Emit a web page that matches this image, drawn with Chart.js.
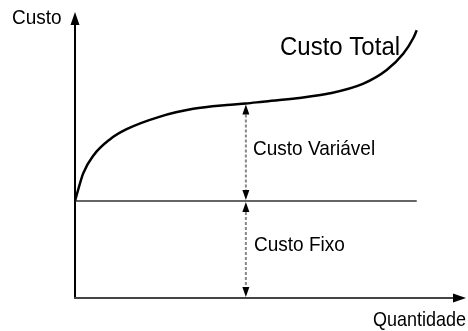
<!DOCTYPE html>
<html>
<head>
<meta charset="utf-8">
<script src="https://cdn.jsdelivr.net/npm/chart.js@4/dist/chart.umd.min.js"></script>
<style>
  html, body { margin: 0; padding: 0; background: #fff; }
  #wrap { width: 468px; height: 331px; }
</style>
</head>
<body>
<div id="wrap"><canvas id="chart" width="468" height="331"></canvas></div>
<script>
// quantidade (x) e custo (y)
const quantidade = [0, 0.24, 0.54, 1.02, 1.51, 2.49, 3.46, 4.44, 5, 5.5, 6.49, 7.46, 8.44, 9.12, 9.61, 9.9, 10];
const custoTotal = [10, 12.85, 14.7, 16.35, 17.4, 18.7, 19.5, 19.9, 20.05, 20.24, 20.6, 21.1, 22.1, 23.5, 25.2, 26.8, 27.6];
const quantidadeFixo = [0, 10];
const custoFixo = [10, 10];
const qMarca = 5; // onde ficam as setas tracejadas

const xMax = 11.5;
const yMax = 30;

const totalPts = quantidade.map((q, i) => ({ x: q, y: custoTotal[i] }));
const fixoPts = quantidadeFixo.map((q, i) => ({ x: q, y: custoFixo[i] }));

function arrowHead(ctx, x, y, dir, len, half) {
  // dir: 'up' | 'down' | 'right'
  ctx.beginPath();
  if (dir === 'up') {
    ctx.moveTo(x, y); ctx.lineTo(x - half, y + len); ctx.lineTo(x + half, y + len);
  } else if (dir === 'down') {
    ctx.moveTo(x, y); ctx.lineTo(x - half, y - len); ctx.lineTo(x + half, y - len);
  } else {
    ctx.moveTo(x, y); ctx.lineTo(x - len, y - half); ctx.lineTo(x - len, y + half);
  }
  ctx.closePath();
  ctx.fill();
}

// texto um pouco esticado na vertical, como no original
function label(ctx, txt, x, y, size, align) {
  ctx.save();
  ctx.font = size + 'px "Liberation Sans", Arial, sans-serif';
  ctx.textAlign = align || 'left';
  ctx.textBaseline = 'alphabetic';
  ctx.translate(x, y);
  ctx.scale(1, 1.1);
  ctx.fillText(txt, 0, 0);
  ctx.restore();
}

const desenho = {
  id: 'desenho',
  beforeDatasetsDraw(chart) {
    const { ctx, scales: { x, y } } = chart;
    const x0 = x.getPixelForValue(0);
    const y0 = y.getPixelForValue(0);
    ctx.save();
    ctx.fillStyle = '#000';
    // eixo vertical
    ctx.strokeStyle = '#000';
    ctx.lineWidth = 2;
    ctx.beginPath();
    ctx.moveTo(x0, y0 + 1);
    ctx.lineTo(x0, 20);
    ctx.stroke();
    arrowHead(ctx, x0, 12, 'up', 13, 4.5);
    // eixo horizontal
    ctx.strokeStyle = '#444';
    ctx.beginPath();
    ctx.moveTo(x0 - 1, y0);
    ctx.lineTo(458, y0);
    ctx.stroke();
    arrowHead(ctx, 466, y0, 'right', 13, 4.5);

    // setas tracejadas
    const xm = x.getPixelForValue(qMarca);
    const iM = quantidade.indexOf(qMarca);
    const yTop = y.getPixelForValue(custoTotal[iM]);
    const yFix = y.getPixelForValue(custoFixo[0]);
    ctx.strokeStyle = '#888';
    ctx.lineWidth = 2;
    ctx.setLineDash([3, 2]);
    ctx.beginPath();
    ctx.moveTo(xm, yTop + 6);
    ctx.lineTo(xm, yFix - 6);
    ctx.moveTo(xm, yFix + 6);
    ctx.lineTo(xm, y0 - 6);
    ctx.stroke();
    ctx.setLineDash([]);
    arrowHead(ctx, xm, yTop + 1, 'up', 10, 3.5);
    arrowHead(ctx, xm, yFix - 1, 'down', 10, 3.5);
    arrowHead(ctx, xm, yFix + 1, 'up', 10, 3.5);
    arrowHead(ctx, xm, y0 - 1, 'down', 10, 3.5);

    // textos
    label(ctx, 'Custo', 12, 24, 19);
    label(ctx, 'Custo Variável', 253, 155, 19);
    label(ctx, 'Custo Fixo', 254, 251, 19);
    label(ctx, 'Quantidade', 466, 326, 18, 'right');
    label(ctx, 'Custo Total', 280, 55, 24);
    ctx.restore();
  }
};

new Chart(document.getElementById('chart'), {
  type: 'scatter',
  data: {
    datasets: [
      {
        label: 'Custo Total',
        data: totalPts,
        showLine: true,
        borderColor: '#000',
        borderWidth: 2.5,
        pointRadius: 0,
        cubicInterpolationMode: 'monotone',
        fill: false
      },
      {
        label: 'Custo Fixo',
        data: fixoPts,
        showLine: true,
        borderColor: '#333',
        borderWidth: 1.5,
        pointRadius: 0,
        fill: false
      }
    ]
  },
  options: {
    responsive: false,
    animation: false,
    layout: { padding: { left: 75, top: 7, right: 0, bottom: 33 } },
    plugins: { legend: { display: false }, tooltip: { enabled: false } },
    scales: {
      x: { type: 'linear', min: 0, max: xMax, display: false },
      y: { type: 'linear', min: 0, max: yMax, display: false }
    }
  },
  plugins: [desenho]
});
</script>
</body>
</html>
